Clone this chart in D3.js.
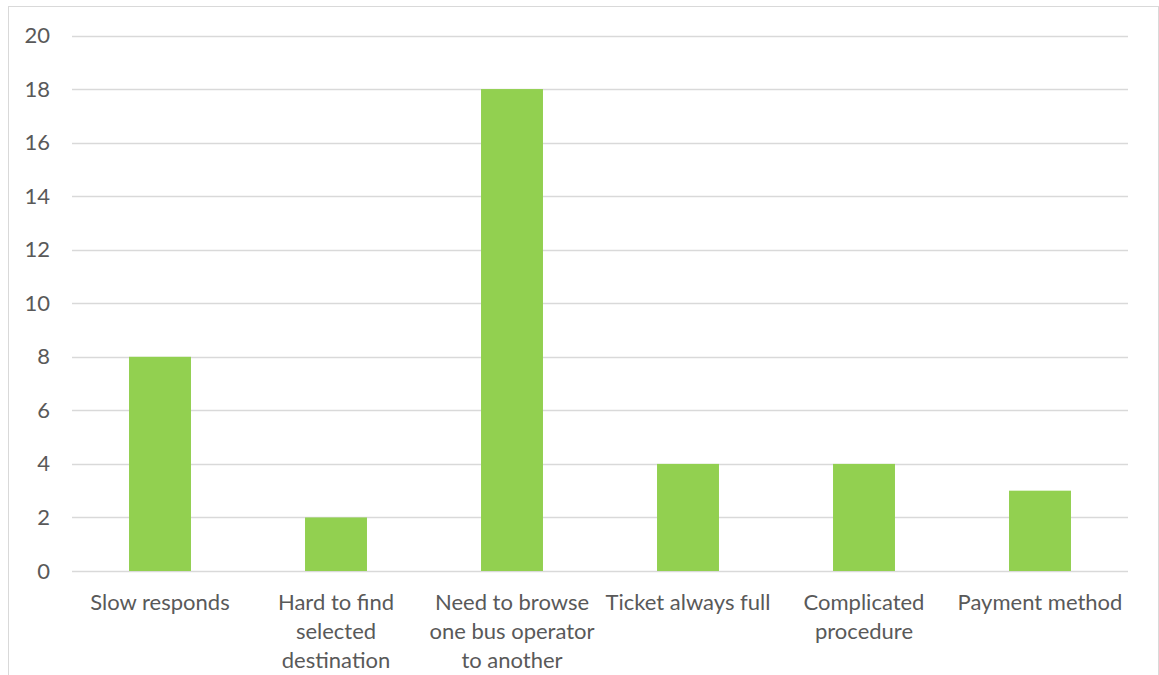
<!DOCTYPE html>
<html>
<head>
<meta charset="utf-8">
<script src="https://cdn.jsdelivr.net/npm/d3@7"></script>
<style>
  html, body { margin: 0; padding: 0; background: #fff; }
  svg { display: block; }
</style>
</head>
<body>
<svg id="chart" width="1159" height="675"></svg>
<script>
// Reasons reported by respondents and their counts
const categories = [
  "Slow responds",
  "Hard to find selected destination",
  "Need to browse one bus operator to another",
  "Ticket always full",
  "Complicated procedure",
  "Payment method"
];
const labelLines = [
  ["Slow responds"],
  ["Hard to find", "selected", "destination"],
  ["Need to browse", "one bus operator", "to another"],
  ["Ticket always full"],
  ["Complicated", "procedure"],
  ["Payment method"]
];
const values = [8, 2, 18, 4, 4, 3];
const yTicks = [0, 2, 4, 6, 8, 10, 12, 14, 16, 18, 20];

const svg = d3.select("#chart");
const font = "Lato, 'Open Sans', sans-serif";
const textColor = "#595959";

// chart frame
svg.append("rect")
  .attr("x", 8.5).attr("y", 6.5)
  .attr("width", 1150).attr("height", 680)
  .attr("fill", "none").attr("stroke", "#D9D9D9").attr("stroke-width", 1);

const plot = { left: 72, right: 1128, top: 35.5, bottom: 571 };

const x = d3.scaleBand()
  .domain(categories)
  .range([plot.left, plot.right])
  .paddingInner(0.648)
  .paddingOuter(0.324);

const y = d3.scaleLinear()
  .domain([0, 20])
  .range([plot.bottom, plot.top]);

// horizontal gridlines
svg.append("g")
  .selectAll("line")
  .data(yTicks)
  .join("line")
  .attr("x1", plot.left).attr("x2", plot.right)
  .attr("y1", d => Math.round(y(d)) + 0.5)
  .attr("y2", d => Math.round(y(d)) + 0.5)
  .attr("stroke", "#D9D9D9").attr("stroke-width", 1.5);

// y-axis tick labels
const yAxis = d3.axisLeft(y).tickValues(yTicks).tickSize(0).tickPadding(0);
const gy = svg.append("g")
  .attr("transform", `translate(${plot.left - 22},0)`)
  .call(yAxis);
gy.select(".domain").remove();
gy.selectAll("text")
  .attr("fill", textColor)
  .style("font-family", font)
  .style("font-size", "22px");

// bars
svg.append("g")
  .selectAll("rect")
  .data(values)
  .join("rect")
  .attr("x", (d, i) => x(categories[i]))
  .attr("width", x.bandwidth())
  .attr("y", d => y(d))
  .attr("height", d => y(0) - y(d))
  .attr("fill", "#92D050");

// category labels, wrapped onto multiple lines
const gx = svg.append("g");
labelLines.forEach((lines, i) => {
  const cx = x(categories[i]) + x.bandwidth() / 2;
  const t = gx.append("text")
    .attr("text-anchor", "middle")
    .attr("fill", textColor)
    .style("font-family", font)
    .style("font-size", "22px");
  lines.forEach((ln, j) => {
    t.append("tspan")
      .attr("x", cx)
      .attr("y", 610 + j * 29)
      .text(ln);
  });
});
</script>
</body>
</html>
